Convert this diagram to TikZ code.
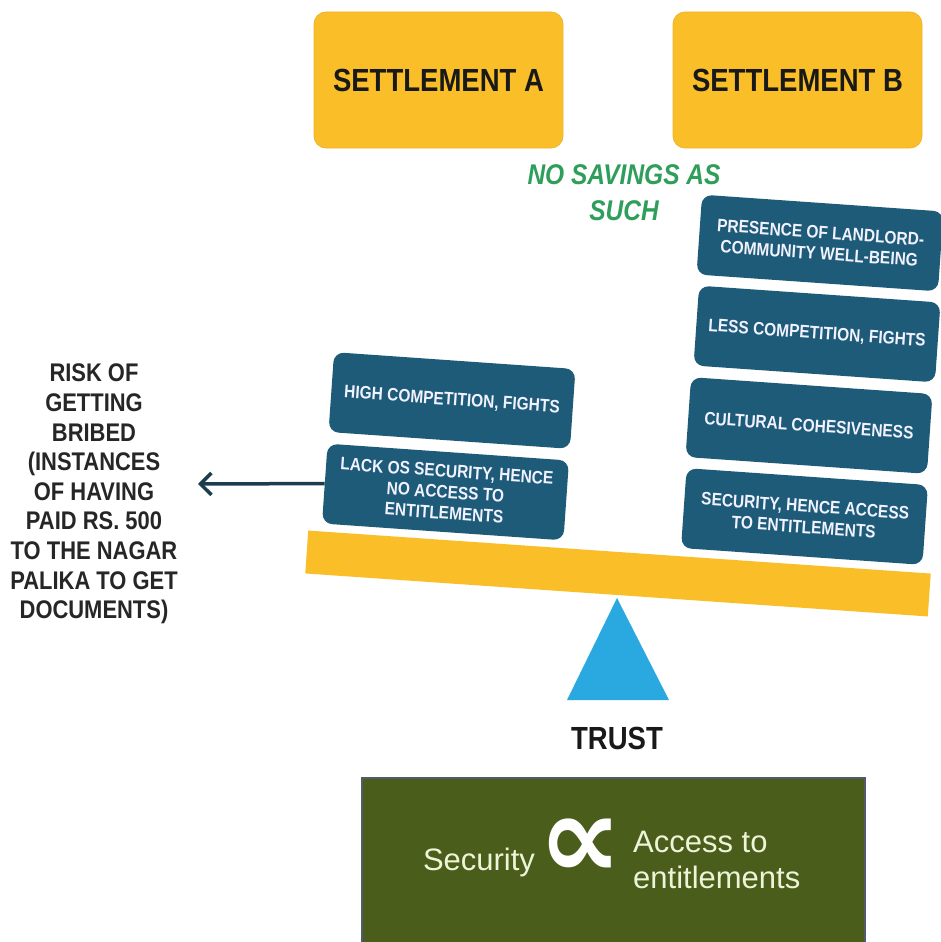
\documentclass[tikz,border=0pt]{standalone}
\usepackage{fontspec}
\setmainfont{Liberation Sans}
\newfontfamily\condfont[FakeStretch=0.86]{Liberation Sans}
\newfontfamily\symfont{DejaVu Sans}
\usetikzlibrary{arrows.meta}
\definecolor{gold}{HTML}{F9BE28}
\definecolor{tealbox}{HTML}{1D5B79}
\definecolor{sky}{HTML}{29A9E0}
\definecolor{savegreen}{HTML}{2E9E5A}
\definecolor{olive}{HTML}{4A5D1B}
\definecolor{cream}{HTML}{EEF4D8}
\definecolor{navy}{HTML}{1D3D4F}
\definecolor{inkgrey}{HTML}{262626}
\begin{document}
\begin{tikzpicture}[x=1pt,y=-1pt,
  settle/.style={fill=gold, draw=gold!85!brown, line width=0.8pt, rounded corners=12pt,
    minimum width=249pt, minimum height=136pt, inner sep=0pt,
    text=black!90, font=\condfont\bfseries\fontsize{32}{32}\selectfont},
  factor/.style={fill=tealbox, rounded corners=10pt, minimum width=242pt,
    minimum height=80pt, rotate=-4, align=center, inner sep=0pt, text=white!95!blue,
    font=\condfont\bfseries\fontsize{18}{21}\selectfont},
  beamstyle/.style={fill=gold, minimum width=624pt, minimum height=43pt,
    rotate=-3.95, inner sep=0pt},
  risk/.style={align=center, text=inkgrey, inner sep=0pt,
    font=\condfont\bfseries\fontsize{25.5}{29.6}\selectfont},
  savings/.style={align=center, text=savegreen, inner sep=0pt,
    font=\condfont\bfseries\itshape\fontsize{28.5}{36}\selectfont},
  trust/.style={text=black!90, inner sep=0pt,
    font=\condfont\bfseries\fontsize{32}{32}\selectfont},
  formulabox/.style={fill=olive, draw=olive!70!blue!60!gray, line width=1.2pt,
    minimum width=503pt, minimum height=166pt, inner sep=0pt},
  formtext/.style={text=cream, inner sep=0pt, font=\fontsize{31}{31}\selectfont},
  arr/.style={draw=navy, line width=3.5pt, -{Straight Barb[length=11pt,width=22pt,line width=3.5pt]}}
]
\useasboundingbox (0,0) rectangle (940,942);
\fill[white] (0,0) rectangle (940,942);

% settlement headers
\node[settle] (setA) at (438.5,80) {SETTLEMENT A};
\node[settle] (setB) at (797.5,80) {SETTLEMENT B};

% no savings note
\node[savings] (nosave) at (624,193) {NO SAVINGS AS\\SUCH};

% right pan (settlement B)
\node[factor] (b1) at (820,243) {PRESENCE OF LANDLORD-\\COMMUNITY WELL-BEING};
\node[factor] (b2) at (817,334) {LESS COMPETITION, FIGHTS};
\node[factor] (b3) at (809,425.5) {CULTURAL COHESIVENESS};
\node[factor] (b4) at (804.5,516.5) {SECURITY, HENCE ACCESS\\TO ENTITLEMENTS};

% left pan (settlement A)
\node[factor] (a1) at (452,400.5) {HIGH COMPETITION, FIGHTS};
\node[factor] (a2) at (445.5,492) {LACK OS SECURITY, HENCE\\NO ACCESS TO\\ENTITLEMENTS};

% beam
\node[beamstyle] (beam) at (618,573.5) {};

% fulcrum
\coordinate (apex) at (617,598);
\coordinate (baseR) at (669,700);
\coordinate (baseL) at (567,700);
\fill[sky] (apex) -- (baseR) -- (baseL) -- cycle;

\node[trust] (trustlbl) at (617,738) {TRUST};

% risk note and arrow
\node[risk] (risknote) at (94,494) {RISK OF\\GETTING\\BRIBED\\(INSTANCES\\OF HAVING\\PAID RS. 500\\TO THE NAGAR\\PALIKA TO GET\\DOCUMENTS)};
\coordinate (risktip) at (198,484);
\draw[arr] (a2.west) -- (risktip);

% formula box
\node[formulabox] (formula) at (613.5,861) {};
\node[formtext, anchor=base] (sec) at (479,870) {Security};
\node[text=white, inner sep=0pt, font=\symfont\bfseries\fontsize{118}{118}\selectfont] (prop) at (580,849) {∝};
\node[formtext, anchor=base west] (acc1) at (633,852) {Access to};
\node[formtext, anchor=base west] (acc2) at (633,888) {entitlements};
\end{tikzpicture}
\end{document}
